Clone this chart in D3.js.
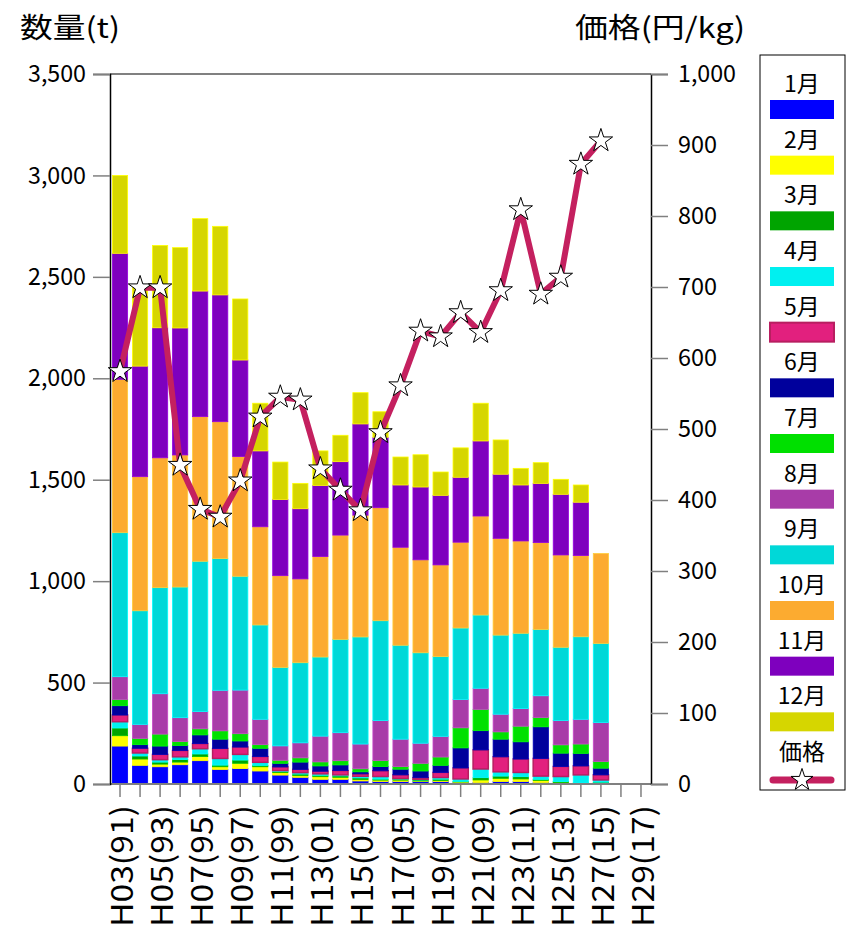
<!DOCTYPE html>
<html><head><meta charset="utf-8">
<script src="https://cdn.jsdelivr.net/npm/d3@7"></script>
<style>
html,body{margin:0;padding:0;background:#fff;}
text{font-family:"Noto Sans CJK JP","Noto Sans",sans-serif;}
</style></head>
<body>
<svg id="chart" width="847" height="931"></svg>
<script>
const categories = ["H03(91)","H04(92)","H05(93)","H06(94)","H07(95)","H08(96)","H09(97)","H10(98)","H11(99)","H12(00)","H13(01)","H14(02)","H15(03)","H16(04)","H17(05)","H18(06)","H19(07)","H20(08)","H21(09)","H22(10)","H23(11)","H24(12)","H25(13)","H26(14)","H27(15)","H28(16)","H29(17)"];
const months = ["1月","2月","3月","4月","5月","6月","7月","8月","9月","10月","11月","12月"];
const colors = ["#0000ff","#ffff00","#00a400","#00f0f0","#e2207e","#00009c","#00e000","#a83ca8","#00d8d8","#fcab30","#7e00be","#d6d600"];
const jan = [187,92,85,95,115,72,76,64,44,33,23,23,15,12,12,12,12,7,7,12,12,7,5,3,5];
const feb = [51,31,13,13,20,13,26,21,12,8,13,10,7,7,7,3,5,3,13,16,13,11,2,1,1];
const mar = [38,15,10,13,13,8,16,7,5,8,7,7,8,5,5,5,7,3,11,11,11,5,5,1,3];
const apr = [31,15,12,13,26,33,28,15,5,7,7,5,8,13,3,3,8,12,43,21,21,16,25,40,11];
const may = [33,23,26,31,25,49,36,28,18,16,13,21,12,28,18,8,25,54,94,74,66,87,49,44,25];
const jun = [46,18,41,25,43,46,30,41,18,36,26,28,10,21,28,33,35,99,95,87,85,156,66,62,33];
const jul = [31,31,59,20,30,41,36,18,15,21,20,21,15,30,13,38,41,99,105,36,77,46,41,46,33];
const aug = [112,69,199,117,85,200,215,125,71,74,127,138,122,197,135,99,102,140,104,87,87,107,120,122,192];
const sep = [710,560,523,644,741,649,561,465,387,395,390,460,528,492,463,446,393,352,361,390,371,327,361,407,390];
const oct = [756,661,640,651,713,675,590,484,452,413,495,514,600,557,483,458,452,423,488,477,455,428,455,400,443];
const nov = [621,545,641,626,619,625,476,374,376,346,351,362,450,347,307,359,343,320,370,316,276,292,299,263,0];
const dec = [384,390,406,396,357,338,301,235,184,125,170,130,154,126,138,159,115,145,186,169,82,102,74,85,0];
const price = [581,699,699,449,387,376,427,517,545,541,444,414,385,495,561,638,630,664,636,695,809,690,714,873,906];
const leftTicks = [0,500,1000,1500,2000,2500,3000,3500];
const rightTicks = [0,100,200,300,400,500,600,700,800,900,1000];
const labelCats = categories.filter((d,i)=>i%2===0);

const series = [jan,feb,mar,apr,may,jun,jul,aug,sep,oct,nov,dec];
const rows = jan.map((_,i)=>{
  const r = {cat: categories[i]};
  months.forEach((m,j)=>{ r[m] = series[j][i]; });
  return r;
});

const svg = d3.select("#chart");
const L = 110, R = 651, T = 74, B = 784;
const xBand = d3.scaleBand().domain(categories).range([L,R]).paddingInner(0.24).paddingOuter(0.12);
const xPt = d3.scaleBand().domain(categories).range([L,R]).padding(0);
const yL = d3.scaleLinear().domain([0,3500]).range([B,T]);
const yR = d3.scaleLinear().domain([0,1000]).range([B,T]);
const fmt = d3.format(",");
const numLen = s => Array.from(s).reduce((a,ch)=>a+(ch===","?6:13),0);

// bars
const stack = d3.stack().keys(months)(rows);
const g = svg.append("g");
stack.forEach((layer,j)=>{
  const c = colors[j];
  g.append("g").selectAll("rect").data(layer.filter(d=>d[1]-d[0]>0)).join("rect")
    .attr("x", d=>xBand(d.data.cat))
    .attr("width", xBand.bandwidth())
    .attr("y", d=>yL(d[1]))
    .attr("height", d=>yL(d[0])-yL(d[1]))
    .attr("fill", c)
    .attr("stroke", j===4 ? "#b81e60" : d3.color(c).brighter(0.5).formatHex())
    .attr("stroke-width", j===4 ? 1.5 : 0.8);
});

// frame
svg.append("line").attr("x1",L).attr("x2",R).attr("y1",T).attr("y2",T).attr("stroke","#808080").attr("stroke-width",2);
svg.append("line").attr("x1",L).attr("x2",R).attr("y1",B).attr("y2",B).attr("stroke","#808080").attr("stroke-width",2);

// left axis
const axL = svg.append("g").attr("transform",`translate(${L},0)`)
  .call(d3.axisLeft(yL).tickValues(leftTicks).tickFormat(fmt).tickSize(17).tickPadding(7));
axL.select(".domain").attr("stroke","#000").attr("stroke-width",1.5);
axL.selectAll(".tick line").attr("stroke","#808080").attr("stroke-width",1.5);
axL.selectAll(".tick text").attr("font-size",24).attr("fill","#000")
  .attr("textLength", d=>numLen(fmt(d))).attr("lengthAdjust","spacingAndGlyphs");

// right axis
const axR = svg.append("g").attr("transform",`translate(${R},0)`)
  .call(d3.axisRight(yR).tickValues(rightTicks).tickFormat(fmt).tickSize(17).tickPadding(10));
axR.select(".domain").attr("stroke","#000").attr("stroke-width",1.5);
axR.selectAll(".tick line").attr("stroke","#808080").attr("stroke-width",1.5);
axR.selectAll(".tick text").attr("font-size",24).attr("fill","#000")
  .attr("textLength", d=>numLen(fmt(d))).attr("lengthAdjust","spacingAndGlyphs");

// bottom axis
const axB = svg.append("g").attr("transform",`translate(0,${B})`)
  .call(d3.axisBottom(xPt).tickSize(13).tickFormat(""));
axB.select(".domain").remove();
axB.selectAll(".tick line").attr("stroke","#808080").attr("stroke-width",1.5);
svg.append("g").selectAll("text").data(labelCats).join("text")
  .attr("transform", d=>`translate(${xPt(d)+xPt.bandwidth()/2},805) rotate(-90)`)
  .attr("text-anchor","end").attr("dominant-baseline","central")
  .attr("font-size",30).attr("fill","#000")
  .attr("textLength",122).attr("lengthAdjust","spacingAndGlyphs")
  .text(d=>d);

// price line
const cx = (i)=>xPt(categories[i])+xPt.bandwidth()/2;
svg.append("path").datum(price)
  .attr("d", d3.line().x((d,i)=>cx(i)).y(d=>yR(d)))
  .attr("fill","none").attr("stroke","#c4205f").attr("stroke-width",6).attr("stroke-linejoin","round");
svg.append("g").selectAll("path").data(price).join("path")
  .attr("transform",(d,i)=>`translate(${cx(i)},${yR(d)})`)
  .attr("d", d3.symbol(d3.symbolStar, 170)())
  .attr("fill","#fff").attr("stroke","#000").attr("stroke-width",1);

// titles
svg.append("text").attr("x",20).attr("y",38).attr("font-size",28).attr("fill","#000")
  .attr("textLength",100).attr("lengthAdjust","spacingAndGlyphs").text("数量(t)");
svg.append("text").attr("x",575).attr("y",38).attr("font-size",28).attr("fill","#000")
  .attr("textLength",170).attr("lengthAdjust","spacingAndGlyphs").text("価格(円/kg)");

// legend
const lg = svg.append("g");
lg.append("rect").attr("x",760).attr("y",55).attr("width",85).attr("height",735).attr("fill","#fff").attr("stroke","#000").attr("stroke-width",1);
const legItems = months.concat(["価格"]);
const ly = d3.scaleLinear().domain([0,12]).range([82,750]);
legItems.forEach((m,j)=>{
  lg.append("text").attr("x",802).attr("y",ly(j)).attr("text-anchor","middle").attr("dominant-baseline","central")
    .attr("font-size",23).attr("fill","#000").text(m);
  if (j<12) {
    lg.append("rect").attr("x",770).attr("y",ly(j)+18).attr("width",64).attr("height",19)
      .attr("fill",colors[j])
      .attr("stroke", j===4 ? "#b81e60" : "none").attr("stroke-width",2);
  } else {
    lg.append("line").attr("x1",773).attr("x2",831).attr("y1",ly(j)+30).attr("y2",ly(j)+30)
      .attr("stroke","#c4205f").attr("stroke-width",7).attr("stroke-linecap","round");
    lg.append("path").attr("transform",`translate(802,${ly(j)+30})`)
      .attr("d", d3.symbol(d3.symbolStar,150)()).attr("fill","#fff").attr("stroke","#000").attr("stroke-width",1);
  }
});
</script>
</body></html>
